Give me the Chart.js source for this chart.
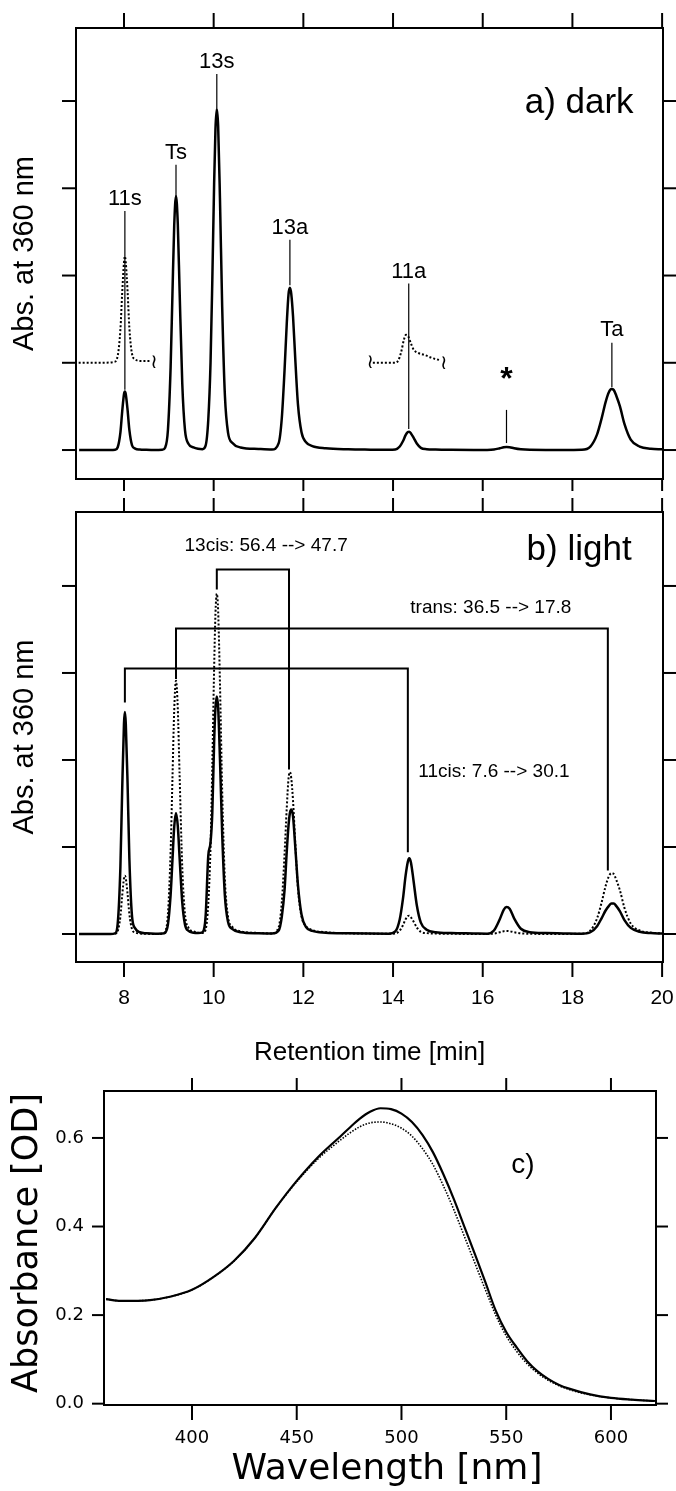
<!DOCTYPE html>
<html lang="en">
<head>
<meta charset="utf-8" />
<title>Retinal isomers: HPLC and absorbance</title>
<script src="https://cdn.jsdelivr.net/npm/chart.js"></script>
<style>
  body { margin: 0; background: #fff; }
  .wrap { position: relative; width: 676px; height: 1491px; }
  canvas { position: absolute; left: 0; }
</style>
</head>
<body>
<div class="wrap">
  <canvas id="chartA" width="676" height="497" style="top:0px"></canvas>
  <canvas id="chartB" width="676" height="578" style="top:497px"></canvas>
  <canvas id="chartC" width="676" height="416" style="top:1075px"></canvas>
</div>
<script>
// ---- chromatogram data (retention time in min, absorbance in tick units) ----
const retentionTime = [
  7.0, 7.5, 7.7, 7.8, 7.86, 7.92, 7.96,
  8.0, 8.02, 8.04, 8.08, 8.12, 8.18, 8.25, 8.35, 8.5, 8.7,
  8.85, 8.92, 8.98, 9.04, 9.08, 9.12, 9.16, 9.20, 9.24, 9.30, 9.36, 9.44, 9.55, 9.65,
  9.75, 9.82, 9.88, 9.93, 9.97, 10.01, 10.04, 10.07, 10.10, 10.14, 10.19, 10.25, 10.32, 10.42, 10.6, 11.0,
  11.3, 11.45, 11.52, 11.58, 11.63, 11.67, 11.70, 11.73, 11.77, 11.82, 11.88, 11.96, 12.06, 12.2, 12.5, 13.0, 13.5,
  13.9, 14.05, 14.15, 14.22, 14.28, 14.33, 14.36, 14.40, 14.46, 14.53, 14.62, 14.75, 14.95, 15.3, 15.8,
  16.1, 16.25, 16.38, 16.47, 16.53, 16.6, 16.7, 16.85, 17.05, 17.4, 17.8,
  18.2, 18.4, 18.55, 18.65, 18.74, 18.81, 18.87, 18.92, 18.98, 19.06, 19.16, 19.3, 19.5, 19.75, 20.0
];
const darkAbs = [
  0, 0, 0, 0.002, 0.032, 0.20, 0.44,
  0.64, 0.67, 0.64, 0.46, 0.23, 0.054, 0.017, 0.006, 0.002, 0,
  0.002, 0.03, 0.23, 0.95, 1.77, 2.57, 2.91, 2.59, 1.83, 0.76, 0.23, 0.07, 0.03, 0.015,
  0.01, 0.05, 0.35, 1.0, 1.95, 3.05, 3.68, 3.91, 3.71, 2.89, 1.64, 0.63, 0.2, 0.08, 0.03, 0.012,
  0.006, 0.08, 0.37, 0.91, 1.45, 1.79, 1.86, 1.79, 1.53, 1.04, 0.52, 0.2, 0.09, 0.045, 0.02, 0.008, 0.004,
  0.002, 0.005, 0.04, 0.10, 0.17, 0.206, 0.21, 0.19, 0.14, 0.075, 0.025, 0.01, 0.005, 0.002, 0.001,
  0.001, 0.005, 0.02, 0.032, 0.035, 0.032, 0.02, 0.008, 0.002, 0.001, 0.001,
  0.003, 0.04, 0.18, 0.36, 0.55, 0.66, 0.70, 0.69, 0.62, 0.50, 0.30, 0.12, 0.04, 0.015, 0.008
];
const lightAbs = [
  0, 0, 0, 0.008, 0.12, 0.77, 1.66,
  2.42, 2.55, 2.42, 1.73, 0.87, 0.2, 0.064, 0.02, 0.008, 0.003,
  0.005, 0.015, 0.11, 0.45, 0.84, 1.23, 1.39, 1.24, 0.88, 0.36, 0.11, 0.035, 0.015, 0.01,
  0.02, 0.2, 0.9, 1.05, 1.4, 2.2, 2.6, 2.73, 2.6, 2.02, 1.15, 0.44, 0.14, 0.055, 0.02, 0.008,
  0.005, 0.04, 0.2, 0.5, 0.95, 1.25, 1.39, 1.43, 1.35, 1.0, 0.56, 0.22, 0.08, 0.035, 0.015, 0.008, 0.005,
  0.004, 0.03, 0.17, 0.4, 0.67, 0.83, 0.87, 0.82, 0.6, 0.33, 0.13, 0.05, 0.02, 0.01, 0.006,
  0.003, 0.04, 0.17, 0.28, 0.31, 0.29, 0.18, 0.06, 0.02, 0.01, 0.006,
  0.002, 0.02, 0.09, 0.18, 0.27, 0.32, 0.35, 0.35, 0.32, 0.26, 0.16, 0.07, 0.025, 0.01, 0.005
];

// magnified dark trace pieces drawn dotted in panel a (offset by one tick)
const inset11sTime = [6.9, 7.5, 7.78, 7.86, 7.92, 7.96, 8.0, 8.02, 8.04, 8.08, 8.12, 8.18, 8.25, 8.35, 8.5, 8.6];
const inset11sAbs = [1.0, 1.0, 1.01, 1.08, 1.38, 1.8, 2.15, 2.22, 2.15, 1.82, 1.4, 1.1, 1.04, 1.02, 1.02, 1.02];
const inset11aTime = [13.55, 13.8, 14.05, 14.12, 14.18, 14.24, 14.29, 14.34, 14.40, 14.46, 14.53, 14.7, 14.9, 15.05];
const inset11aAbs = [1.0, 1.0, 1.0, 1.03, 1.12, 1.26, 1.32, 1.30, 1.22, 1.15, 1.12, 1.09, 1.05, 1.03];

const timeTicks = [8, 10, 12, 14, 16, 18, 20];
const absTicks = [0, 1, 2, 3, 4];

// peak names in panel a
const peakNames = ['11s', 'Ts', '13s', '13a', '11a', '*', 'Ta'];
const peakTimes = [8.02, 9.16, 10.07, 11.70, 14.35, 16.53, 18.88];

// isomer ratios in panel b (dark --> light)
const isomerNames = ['13cis', 'trans', '11cis'];
const darkPercent = [56.4, 36.5, 7.6];
const lightPercent = [47.7, 17.8, 30.1];

// ---- absorbance spectra (panel c) ----
const wavelength = [359, 366, 380, 390, 400, 410, 420, 430, 440, 450, 460, 470,
  475, 480, 485, 490, 495, 500, 505, 510, 515, 520, 525, 530, 535, 540, 545, 550,
  555, 560, 565, 570, 575, 580, 590, 600, 610, 621];
const absSolid = [0.236, 0.232, 0.234, 0.242, 0.257, 0.285, 0.322, 0.374, 0.442, 0.503, 0.556, 0.600,
  0.622, 0.643, 0.659, 0.667, 0.665, 0.655, 0.636, 0.607, 0.568, 0.518, 0.462, 0.400, 0.338, 0.275, 0.210, 0.162,
  0.127, 0.096, 0.073, 0.056, 0.043, 0.034, 0.021, 0.013, 0.009, 0.006];
const absDotted = [0.236, 0.232, 0.234, 0.242, 0.257, 0.285, 0.322, 0.374, 0.442, 0.501, 0.552, 0.592,
  0.610, 0.625, 0.634, 0.636, 0.632, 0.622, 0.604, 0.576, 0.540, 0.492, 0.438, 0.378, 0.318, 0.258, 0.200, 0.153,
  0.118, 0.090, 0.069, 0.053, 0.041, 0.032, 0.020, 0.013, 0.009, 0.006];
const wavelengthTicks = [400, 450, 500, 550, 600];
const odTicks = [0.0, 0.2, 0.4, 0.6];

const FONT_H = '"Liberation Sans", Arial, Helvetica, sans-serif';
const FONT_L = '"DejaVu Sans", Verdana, sans-serif';

function pts(xs, ys) {
  return xs.map((v, i) => ({ x: v, y: ys[i] }));
}

function line(ctx, x1, y1, x2, y2, w) {
  ctx.lineWidth = w;
  ctx.beginPath();
  ctx.moveTo(x1, y1);
  ctx.lineTo(x2, y2);
  ctx.stroke();
}

function text(ctx, s, px, py, font, align, rotate) {
  ctx.save();
  ctx.font = font;
  ctx.textAlign = align || 'center';
  ctx.textBaseline = 'middle';
  ctx.translate(px, py);
  if (rotate) ctx.rotate(-Math.PI / 2);
  ctx.fillText(s, 0, 0);
  ctx.restore();
}

function frame(chart, t) {
  const { ctx, chartArea: a, scales: { x, y } } = chart;
  ctx.strokeStyle = '#000';
  ctx.fillStyle = '#000';
  ctx.lineWidth = 2;
  ctx.strokeRect(a.left, a.top, a.right - a.left, a.bottom - a.top);
  t.xTicks.forEach(v => {
    const px = x.getPixelForValue(v);
    line(ctx, px, a.top - t.top, px, a.top, 2);
    line(ctx, px, a.bottom, px, a.bottom + t.bottom, 2);
  });
  t.yTicks.forEach(v => {
    const py = y.getPixelForValue(v);
    line(ctx, a.left - t.left, py, a.left, py, 2);
    line(ctx, a.right, py, a.right + t.right, py, 2);
  });
}

function traceSet(xs, ys, width, dash) {
  return {
    data: pts(xs, ys),
    borderColor: '#000',
    borderWidth: width,
    borderDash: dash || [],
    cubicInterpolationMode: 'monotone',
    pointRadius: 0,
    fill: false
  };
}

function bracketSet(b) {
  return {
    data: [{ x: b.left, y: b.leftEnd }, { x: b.left, y: b.top }, { x: b.right, y: b.top }, { x: b.right, y: b.rightEnd }],
    borderColor: '#000',
    borderWidth: 2,
    tension: 0,
    pointRadius: 0,
    fill: false
  };
}

function makeChart(id, datasets, xr, yr, pad, plugin) {
  return new Chart(document.getElementById(id), {
    type: 'line',
    data: { datasets: datasets },
    options: {
      responsive: false,
      animation: false,
      devicePixelRatio: 1,
      layout: { padding: pad },
      plugins: { legend: { display: false }, tooltip: { enabled: false } },
      scales: {
        x: { type: 'linear', min: xr[0], max: xr[1], display: false },
        y: { type: 'linear', min: yr[0], max: yr[1], display: false }
      }
    },
    plugins: [plugin]
  });
}

// ---- panel a: dark ----
const peakLabelY = [2.88, 3.40, 4.45, 2.54, 2.04, 0.80, 1.38];
const leaderTop = [2.74, 3.27, 4.31, 2.41, 1.91, 0.46, 1.23];
const leaderBottom = [0.69, 2.90, 3.92, 1.89, 0.24, 0.08, 0.72];
const squiggles = [[8.67, 1.0], [13.49, 1.0], [15.13, 0.99]];

makeChart('chartA', [
  traceSet(retentionTime, darkAbs, 2.5),
  traceSet(inset11sTime, inset11sAbs, 2, [2, 2]),
  traceSet(inset11aTime, inset11aAbs, 2, [2, 2])
], [6.93, 20.02], [-0.332, 4.837], { left: 76, right: 13, top: 28, bottom: 18 }, {
  id: 'panelA',
  afterDraw(chart) {
    const { ctx, chartArea: a, scales: { x, y } } = chart;
    ctx.save();
    frame(chart, { xTicks: timeTicks, yTicks: absTicks, top: 15, bottom: 12, left: 14, right: 14 });
    peakNames.forEach((name, i) => {
      const px = x.getPixelForValue(peakTimes[i]);
      line(ctx, px, y.getPixelForValue(leaderTop[i]), px, y.getPixelForValue(leaderBottom[i]), 1.2);
      const f = name === '*' ? 'bold 32px ' + FONT_H : '22px ' + FONT_H;
      text(ctx, name, px, y.getPixelForValue(peakLabelY[i]), f);
    });
    squiggles.forEach(s => text(ctx, '\u2240', x.getPixelForValue(s[0]), y.getPixelForValue(s[1]), '20px ' + FONT_L));
    text(ctx, 'a) dark', x.getPixelForValue(18.15), y.getPixelForValue(3.97), '35px ' + FONT_H);
    text(ctx, 'Abs. at 360 nm', 25, (a.top + a.bottom) / 2, '29px ' + FONT_H, 'center', true);
    ctx.restore();
  }
});

// ---- panel b: light ----
const brackets = [
  { left: 10.07, right: 11.68, top: 4.19, leftEnd: 3.96, rightEnd: 1.89, labelX: 11.17, labelY: 4.46 },
  { left: 9.16, right: 18.79, top: 3.51, leftEnd: 2.93, rightEnd: 0.73, labelX: 16.18, labelY: 3.75 },
  { left: 8.02, right: 14.33, top: 3.05, leftEnd: 2.66, rightEnd: 0.94, labelX: 16.25, labelY: 1.87 }
];

makeChart('chartB', [
  traceSet(retentionTime, lightAbs, 2.5),
  traceSet(retentionTime, darkAbs, 2, [2, 2]),
  ...brackets.map(bracketSet)
], [6.93, 20.02], [-0.322, 4.85], { left: 76, right: 13, top: 15, bottom: 113 }, {
  id: 'panelB',
  afterDraw(chart) {
    const { ctx, chartArea: a, scales: { x, y } } = chart;
    ctx.save();
    frame(chart, { xTicks: timeTicks, yTicks: absTicks, top: 14, bottom: 15, left: 14, right: 14 });
    timeTicks.forEach(v => text(ctx, String(v), x.getPixelForValue(v), a.bottom + 36, '21px ' + FONT_H));
    brackets.forEach((b, i) => {
      const s = isomerNames[i] + ': ' + darkPercent[i].toFixed(1) + ' --> ' + lightPercent[i].toFixed(1);
      text(ctx, s, x.getPixelForValue(b.labelX), y.getPixelForValue(b.labelY), '19px ' + FONT_H);
    });
    text(ctx, 'b) light', x.getPixelForValue(18.15), y.getPixelForValue(4.41), '35px ' + FONT_H);
    text(ctx, 'Abs. at 360 nm', 25, (a.top + a.bottom) / 2, '29px ' + FONT_H, 'center', true);
    text(ctx, 'Retention time [min]', (a.left + a.right) / 2, a.bottom + 91, '26px ' + FONT_H);
    ctx.restore();
  }
});

// ---- panel c: absorbance spectra ----
makeChart('chartC', [
  traceSet(wavelength, absSolid, 2.2),
  traceSet(wavelength, absDotted, 1.6, [1.5, 1.5])
], [358, 621.5], [-0.003, 0.706], { left: 104, right: 20, top: 16, bottom: 86 }, {
  id: 'panelC',
  afterDraw(chart) {
    const { ctx, chartArea: a, scales: { x, y } } = chart;
    ctx.save();
    frame(chart, { xTicks: wavelengthTicks, yTicks: odTicks, top: 13, bottom: 15, left: 12, right: 12 });
    wavelengthTicks.forEach(v => text(ctx, String(v), x.getPixelForValue(v), a.bottom + 33, '18px ' + FONT_L));
    odTicks.forEach(v => text(ctx, v.toFixed(1), a.left - 20, y.getPixelForValue(v), '18px ' + FONT_L, 'right'));
    text(ctx, 'c)', x.getPixelForValue(558), y.getPixelForValue(0.539), '28px ' + FONT_H);
    text(ctx, 'Wavelength [nm]', 387, a.bottom + 65, '36px ' + FONT_L);
    text(ctx, 'Absorbance [OD]', 28, 168, '35px ' + FONT_L, 'center', true);
    ctx.restore();
  }
});
</script>
</body>
</html>
